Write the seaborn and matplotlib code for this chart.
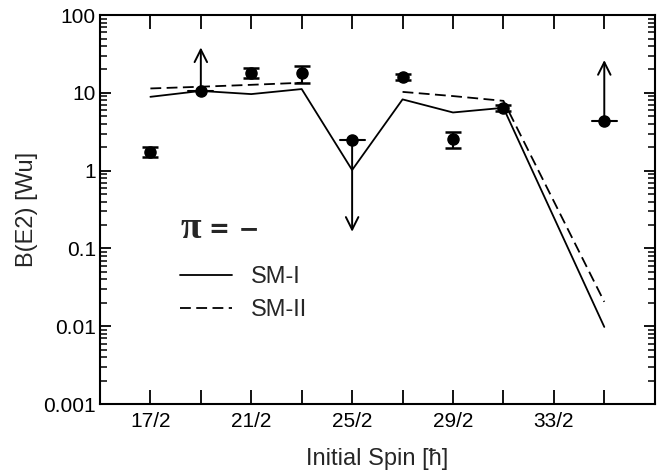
import numpy as np
import pandas as pd
import matplotlib
matplotlib.use("Agg")
import matplotlib.pyplot as plt
import matplotlib.ticker as mticker
import seaborn as sns

# initial spins (in units of hbar), 17/2 ... 35/2
spin_num = [17, 19, 21, 23, 25, 27, 29, 31, 35]
spins = [n / 2 for n in spin_num]

# shell model predictions
sm1 = [8.9, 10.6, 9.65, 11.2, 1.02, 8.25, 5.6, 6.43, 0.0098]
sm2 = [11.4, 12.0, 12.7, 13.5, np.nan, 10.3, 9.1, 7.9, 0.0206]

# experiment: values with asymmetric errors
exp_spin = [8.5, 10.5, 11.5, 13.5, 14.5, 15.5]
exp_val = [1.75, 17.8, 17.8, 15.8, 2.55, 6.43]
exp_lo = [1.51, 15.4, 13.5, 14.5, 1.93, 5.83]
exp_hi = [1.99, 20.6, 22.1, 17.3, 3.16, 6.96]

# experiment: limits (arrow end values)
lim_spin = [9.5, 12.5, 17.5]
lim_val = [10.6, 2.47, 4.38]
lim_end = [38.4, 0.164, 26.4]

tick_spin_num = [17, 19, 21, 23, 25, 27, 29, 31, 33, 35]
x_tick_labels = ['17/2', '', '21/2', '', '25/2', '', '29/2', '', '33/2', '']
y_ticks = [1e-3, 1e-2, 1e-1, 1, 10, 100]
y_tick_labels = ['0.001', '0.01', '0.1', '1', '10', '100']

sns.set_style("ticks")
plt.rcParams['font.family'] = ['Liberation Sans', 'DejaVu Sans']
plt.rcParams['axes.linewidth'] = 1.5

rows = []
for name, vals in [('SM-I', sm1), ('SM-II', sm2)]:
    seg = 0
    for s, v in zip(spins, vals):
        if np.isnan(v):
            seg += 1
            continue
        rows.append({'spin': s, 'bE2': v, 'model': name, 'seg': f'{name}-{seg}'})
df = pd.DataFrame(rows)

fig = plt.figure(figsize=(6.62, 4.72), dpi=100)
ax = fig.add_axes([0.151, 0.144, 0.838, 0.824])

sns.lineplot(data=df, x='spin', y='bE2', style='model', units='seg', estimator=None,
             color='black', linewidth=1.3, dashes={'SM-I': '', 'SM-II': (6, 3)},
             legend=False, ax=ax)

ev = np.array(exp_val)
yerr = [ev - np.array(exp_lo), np.array(exp_hi) - ev]
ax.errorbar(exp_spin, exp_val, yerr=yerr, fmt='o', color='black', markersize=8,
            elinewidth=1.5, capsize=6, capthick=1.8, zorder=5)
ax.errorbar(lim_spin, lim_val, fmt='o', color='black', markersize=8, zorder=5)
for s, v in zip(lim_spin, lim_val):
    ax.plot([s - 0.25, s + 0.25], [v, v], color='black', lw=1.5, zorder=5)
for s, v, e in zip(lim_spin, lim_val, lim_end):
    ax.annotate('', xy=(s, e), xytext=(s, v),
                arrowprops=dict(arrowstyle='->,head_length=0.9,head_width=0.45',
                                lw=1.4, color='black', shrinkA=0, shrinkB=0))

ax.set_yscale('log')
ax.set_ylim(1e-3, 100)
ax.set_xlim(7.5, 18.5)
ax.set_yticks(y_ticks)
ax.set_yticklabels(y_tick_labels)
ax.yaxis.set_minor_locator(mticker.LogLocator(base=10, subs=np.arange(2, 10)))
ax.yaxis.set_minor_formatter(mticker.NullFormatter())
ax.set_xticks([n / 2 for n in tick_spin_num])
ax.set_xticklabels(x_tick_labels)
ax.tick_params(axis='both', which='both', direction='in', top=True, right=True,
               labelsize=15, colors='black', pad=3)
ax.tick_params(axis='x', which='major', length=10, width=1.3, pad=6)
ax.tick_params(axis='y', which='major', length=8, width=1.3)
ax.tick_params(axis='y', which='minor', length=5, width=1.1)
for sp in ax.spines.values():
    sp.set_visible(True)
    sp.set_color('black')

ax.set_xlabel('Initial Spin [ħ]', fontsize=17, labelpad=12)
ax.set_ylabel('B(E2) [Wu]', fontsize=17, labelpad=4)

# parity label: bold serif pi, then "= -"
ax.text(0.146, 0.452, 'π', transform=ax.transAxes, fontsize=27, weight='bold',
        family=['Liberation Serif', 'DejaVu Serif'], va='center', ha='left')
ax.text(0.197, 0.447, '= −', transform=ax.transAxes, fontsize=18, weight='bold',
        family=['DejaVu Sans'], va='center', ha='left')
ax.legend(handles=[plt.Line2D([], [], color='black', lw=1.3),
                   plt.Line2D([], [], color='black', lw=1.3, dashes=(6, 3))],
          labels=['SM-I', 'SM-II'], loc='center left', bbox_to_anchor=(0.144, 0.284),
          borderaxespad=0, borderpad=0, frameon=False, fontsize=17,
          handlelength=2.2, handletextpad=0.8, labelspacing=0.45)

fig.savefig('out.png', dpi=100)
